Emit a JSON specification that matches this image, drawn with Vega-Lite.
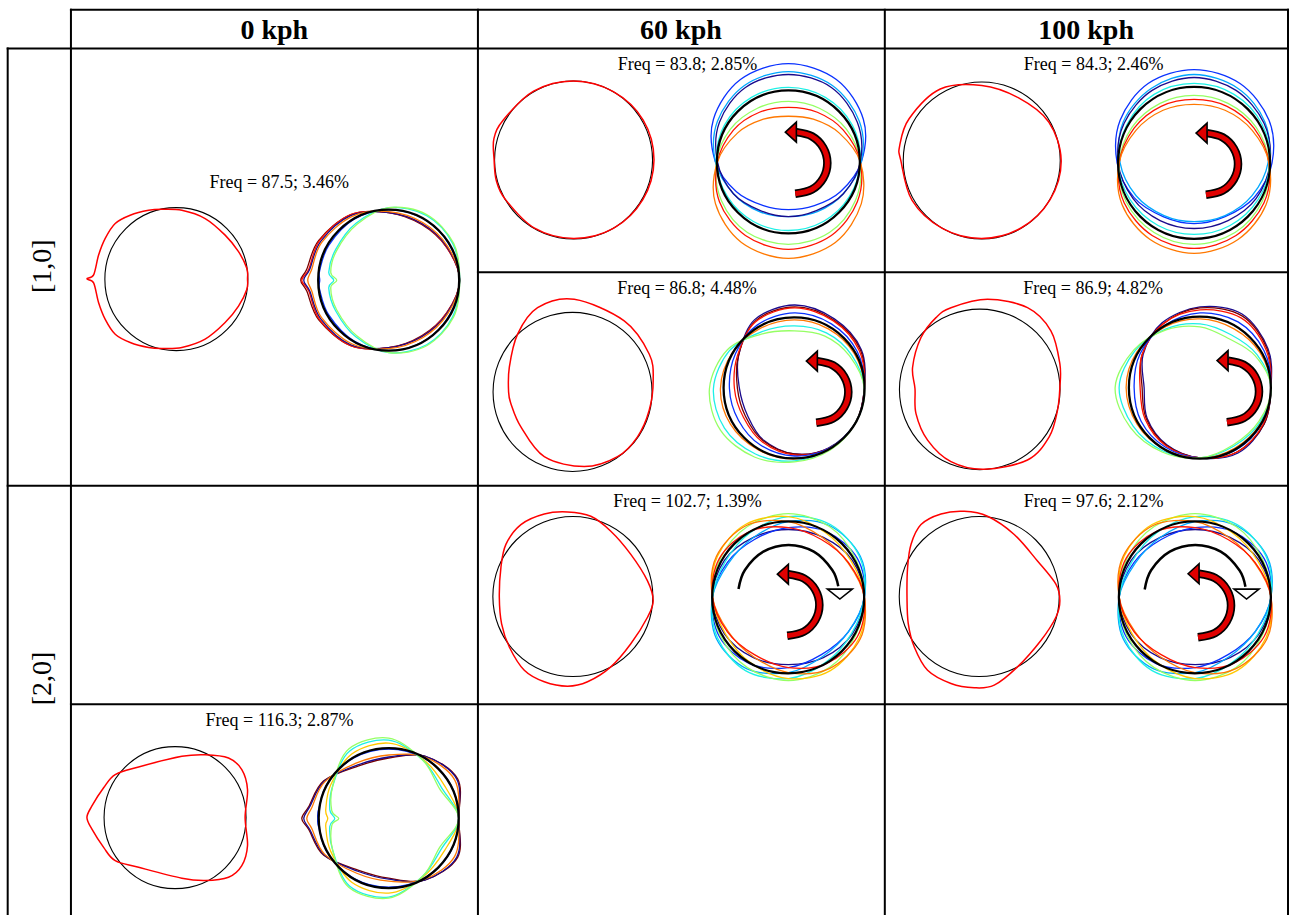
{
"$schema":"https://vega.github.io/schema/vega-lite/v6.json",
"width":1290,"height":916,
"autosize":{"type":"fit","contains":"padding"},
"padding":0,
"background":"white",
"config":{"view":{"stroke":null}},
"datasets":{
"grid":[
{"x":71,"x2":1289,"y":9.7,"y2":9.7},
{"x":7.7,"x2":1289,"y":48.7,"y2":48.7},
{"x":478.3,"x2":1289,"y":274,"y2":274},
{"x":7.7,"x2":1289,"y":489,"y2":489},
{"x":71,"x2":1289,"y":709,"y2":709},
{"x":7.7,"x2":7.7,"y":48.7,"y2":920},
{"x":71,"x2":71,"y":9.7,"y2":920},
{"x":478.3,"x2":478.3,"y":9.7,"y2":920},
{"x":885.5,"x2":885.5,"y":9.7,"y2":920},
{"x":1289,"x2":1289,"y":9.7,"y2":920}
],
"colhead":[{"t":"0 kph","x":274.5,"y":39},{"t":"60 kph","x":681.5,"y":39},{"t":"100 kph","x":1087,"y":39}],
"rowlab":[{"t":"[1,0]","x":43,"y":268},{"t":"[2,0]","x":43,"y":683}],
"freqs":[
{"t":"Freq = 87.5; 3.46%","x":279.5,"y":189.3},
{"t":"Freq = 83.8; 2.85%","x":688,"y":70.5},
{"t":"Freq = 84.3; 2.46%","x":1094.5,"y":70.5},
{"t":"Freq = 86.8; 4.48%","x":687.5,"y":295.7},
{"t":"Freq = 86.9; 4.82%","x":1094,"y":295.7},
{"t":"Freq = 102.7; 1.39%","x":688,"y":510.3},
{"t":"Freq = 97.6; 2.12%","x":1094.5,"y":510.3},
{"t":"Freq = 116.3; 2.87%","x":279.7,"y":730.3}
],
"refL":[
{"x":176.5,"y":281,"r":71.5},{"x":574,"y":161,"r":79},{"x":982.5,"y":161.5,"r":78.5},{"x":573,"y":394.5,"r":79.5},
{"x":980.5,"y":392,"r":80.3},{"x":573.3,"y":600.5,"r":80},{"x":980,"y":600.5,"r":80},{"x":175.2,"y":823,"r":71}
],
"refR":[
{"x":389,"y":282,"r":70.5},{"x":789,"y":163,"r":71.5},{"x":1195,"y":164,"r":76},{"x":794.7,"y":390.5,"r":70.5},
{"x":1200.8,"y":390.2,"r":71},{"x":788.8,"y":601.3,"r":76},{"x":1195.8,"y":601.3,"r":76},{"x":389,"y":823.5,"r":70}
],
"reds":[
{"p":"A","x":247.7,"y":280.7},{"p":"A","x":247,"y":270},{"p":"A","x":238.7,"y":253.3},{"p":"A","x":225.3,"y":236.7},{"p":"A","x":205.3,"y":220},{"p":"A","x":182,"y":211.7},{"p":"A","x":162,"y":210.7},{"p":"A","x":148.7,"y":211.7},{"p":"A","x":130.3,"y":216.7},{"p":"A","x":115.3,"y":225},{"p":"A","x":105.3,"y":240},{"p":"A","x":98.7,"y":256.7},{"p":"A","x":93.7,"y":276.7},{"p":"A","x":87,"y":280.7},{"p":"A","x":93.7,"y":284.7},{"p":"A","x":98.7,"y":304.7},{"p":"A","x":105.3,"y":321.4},{"p":"A","x":115.3,"y":336.4},{"p":"A","x":130.3,"y":344.7},{"p":"A","x":148.7,"y":349.7},{"p":"A","x":162,"y":350.7},{"p":"A","x":182,"y":349.7},{"p":"A","x":205.3,"y":341.4},{"p":"A","x":225.3,"y":324.7},{"p":"A","x":238.7,"y":308.1},{"p":"A","x":247,"y":291.4},
{"p":"B","x":654.5,"y":161},{"p":"B","x":643.7,"y":120.8},{"p":"B","x":613.8,"y":92.2},{"p":"B","x":574,"y":81.5},{"p":"B","x":534,"y":91.7},{"p":"B","x":503.9,"y":120.5},{"p":"B","x":494.3,"y":139.6},{"p":"B","x":494.5,"y":161},{"p":"B","x":496.7,"y":181.7},{"p":"B","x":505.6,"y":200.5},{"p":"B","x":534.5,"y":229.4},{"p":"B","x":574,"y":240},{"p":"B","x":613.8,"y":229.9},{"p":"B","x":643.3,"y":201},
{"p":"C","x":1062,"y":161.5},{"p":"C","x":1049.6,"y":122.8},{"p":"C","x":1019,"y":98.3},{"p":"C","x":982.5,"y":86},{"p":"C","x":941,"y":89.6},{"p":"C","x":909.8,"y":119.5},{"p":"C","x":900.3,"y":147},{"p":"C","x":901.5,"y":161.5},{"p":"C","x":912.8,"y":201.8},{"p":"C","x":943,"y":229.9},{"p":"C","x":982.5,"y":240},{"p":"C","x":1021.8,"y":229.5},{"p":"C","x":1050.9,"y":201},
{"p":"D","x":653.7,"y":383},{"p":"D","x":649.7,"y":356.3},{"p":"D","x":624.7,"y":323},{"p":"D","x":574.7,"y":301.3},{"p":"D","x":538,"y":309.7},{"p":"D","x":518,"y":336.3},{"p":"D","x":509.7,"y":369.7},{"p":"D","x":509,"y":394.7},{"p":"D","x":511.3,"y":406.3},{"p":"D","x":521.3,"y":429.7},{"p":"D","x":544.7,"y":459.7},{"p":"D","x":584.7,"y":469.7},{"p":"D","x":618,"y":459.7},{"p":"D","x":638,"y":439.7},{"p":"D","x":649.7,"y":413},
{"p":"E","x":1060.7,"y":389.7},{"p":"E","x":1060.7,"y":366.3},{"p":"E","x":1051.7,"y":333},{"p":"E","x":1028.3,"y":309.7},{"p":"E","x":988.3,"y":301.3},{"p":"E","x":951.7,"y":309.7},{"p":"E","x":936.7,"y":319.7},{"p":"E","x":921.7,"y":339.7},{"p":"E","x":913.3,"y":369.7},{"p":"E","x":915.7,"y":391.3},{"p":"E","x":916.7,"y":416.3},{"p":"E","x":928.3,"y":443},{"p":"E","x":951.7,"y":464.7},{"p":"E","x":985,"y":472.3},{"p":"E","x":1028.3,"y":463},{"p":"E","x":1050,"y":439.7},{"p":"E","x":1058.3,"y":413},
{"p":"F","x":653.7,"y":604.7},{"p":"F","x":648,"y":584.7},{"p":"F","x":631.3,"y":558},{"p":"F","x":611.3,"y":534.7},{"p":"F","x":591.3,"y":519.7},{"p":"F","x":568,"y":515.3},{"p":"F","x":544.7,"y":517.3},{"p":"F","x":521.3,"y":528},{"p":"F","x":506.3,"y":548},{"p":"F","x":501.3,"y":571.3},{"p":"F","x":499.7,"y":601.3},{"p":"F","x":502,"y":628},{"p":"F","x":509.7,"y":651.3},{"p":"F","x":524.7,"y":674.7},{"p":"F","x":544.7,"y":686.3},{"p":"F","x":568,"y":690.7},{"p":"F","x":588,"y":686.3},{"p":"F","x":611.3,"y":671.3},{"p":"F","x":631.3,"y":648},{"p":"F","x":648,"y":621.3},
{"p":"G","x":1060.7,"y":604.7},{"p":"G","x":1056.7,"y":588},{"p":"G","x":1038.3,"y":564.7},{"p":"G","x":1015,"y":538},{"p":"G","x":988.3,"y":519.7},{"p":"G","x":965,"y":514.7},{"p":"G","x":941.7,"y":517.3},{"p":"G","x":921.7,"y":528},{"p":"G","x":911.7,"y":548},{"p":"G","x":908.3,"y":571.3},{"p":"G","x":907.7,"y":601.3},{"p":"G","x":909,"y":628},{"p":"G","x":915,"y":651.3},{"p":"G","x":928.3,"y":674.7},{"p":"G","x":951.7,"y":688},{"p":"G","x":975,"y":692.3},{"p":"G","x":995,"y":689.7},{"p":"G","x":1018.3,"y":671.3},{"p":"G","x":1041.7,"y":644.7},{"p":"G","x":1056.7,"y":621.3},
{"p":"H","x":245.3,"y":823},{"p":"H","x":247.7,"y":794.7},{"p":"H","x":242,"y":774.7},{"p":"H","x":228.7,"y":763},{"p":"H","x":205.3,"y":759.7},{"p":"H","x":182,"y":761.3},{"p":"H","x":138.7,"y":772},{"p":"H","x":115.3,"y":779.7},{"p":"H","x":103.7,"y":793},{"p":"H","x":92,"y":811.3},{"p":"H","x":87,"y":823},{"p":"H","x":92,"y":834.7},{"p":"H","x":103.7,"y":853},{"p":"H","x":115.3,"y":866.3},{"p":"H","x":138.7,"y":873},{"p":"H","x":182,"y":884},{"p":"H","x":205.3,"y":886.3},{"p":"H","x":228.7,"y":883},{"p":"H","x":242,"y":871.3},{"p":"H","x":247.7,"y":851.3}
],
"frames":[
{"p":"A","k":9,"x":460,"y":282},{"p":"A","k":9,"x":447,"y":249},{"p":"A","k":9,"x":422,"y":226},{"p":"A","k":9,"x":389,"y":214},{"p":"A","k":9,"x":351,"y":216},{"p":"A","k":9,"x":319,"y":242},{"p":"A","k":9,"x":307,"y":271},{"p":"A","k":9,"x":301,"y":282},{"p":"A","k":9,"x":307,"y":293},{"p":"A","k":9,"x":319,"y":322},{"p":"A","k":9,"x":351,"y":348},{"p":"A","k":9,"x":389,"y":350},{"p":"A","k":9,"x":422,"y":338},{"p":"A","k":9,"x":447,"y":315},
{"p":"A","k":8,"x":460,"y":282},{"p":"A","k":8,"x":447,"y":249},{"p":"A","k":8,"x":422,"y":225},{"p":"A","k":8,"x":389,"y":214},{"p":"A","k":8,"x":351,"y":216},{"p":"A","k":8,"x":320,"y":242},{"p":"A","k":8,"x":309,"y":271},{"p":"A","k":8,"x":302,"y":282},{"p":"A","k":8,"x":309,"y":293},{"p":"A","k":8,"x":320,"y":322},{"p":"A","k":8,"x":351,"y":348},{"p":"A","k":8,"x":389,"y":350},{"p":"A","k":8,"x":422,"y":339},{"p":"A","k":8,"x":447,"y":315},
{"p":"A","k":1,"x":460,"y":282},{"p":"A","k":1,"x":447,"y":248},{"p":"A","k":1,"x":422,"y":225},{"p":"A","k":1,"x":389,"y":214},{"p":"A","k":1,"x":351,"y":217},{"p":"A","k":1,"x":321,"y":243},{"p":"A","k":1,"x":310,"y":271},{"p":"A","k":1,"x":304,"y":282},{"p":"A","k":1,"x":310,"y":293},{"p":"A","k":1,"x":321,"y":321},{"p":"A","k":1,"x":351,"y":347},{"p":"A","k":1,"x":389,"y":350},{"p":"A","k":1,"x":422,"y":339},{"p":"A","k":1,"x":447,"y":316},
{"p":"A","k":7,"x":460,"y":282},{"p":"A","k":7,"x":448,"y":248},{"p":"A","k":7,"x":423,"y":224},{"p":"A","k":7,"x":389,"y":213},{"p":"A","k":7,"x":352,"y":218},{"p":"A","k":7,"x":322,"y":244},{"p":"A","k":7,"x":312,"y":271},{"p":"A","k":7,"x":308,"y":282},{"p":"A","k":7,"x":312,"y":293},{"p":"A","k":7,"x":322,"y":320},{"p":"A","k":7,"x":352,"y":346},{"p":"A","k":7,"x":389,"y":351},{"p":"A","k":7,"x":423,"y":340},{"p":"A","k":7,"x":448,"y":316},
{"p":"A","k":2,"x":460,"y":282},{"p":"A","k":2,"x":450,"y":247},{"p":"A","k":2,"x":425,"y":221},{"p":"A","k":2,"x":389,"y":211},{"p":"A","k":2,"x":354,"y":221},{"p":"A","k":2,"x":329,"y":247},{"p":"A","k":2,"x":320,"y":272},{"p":"A","k":2,"x":320,"y":282},{"p":"A","k":2,"x":320,"y":292},{"p":"A","k":2,"x":329,"y":317},{"p":"A","k":2,"x":354,"y":343},{"p":"A","k":2,"x":389,"y":353},{"p":"A","k":2,"x":425,"y":343},{"p":"A","k":2,"x":450,"y":317},
{"p":"A","k":4,"x":460,"y":282},{"p":"A","k":4,"x":453,"y":245},{"p":"A","k":4,"x":427,"y":217},{"p":"A","k":4,"x":389,"y":209},{"p":"A","k":4,"x":356,"y":225},{"p":"A","k":4,"x":336,"y":251},{"p":"A","k":4,"x":329,"y":274},{"p":"A","k":4,"x":334,"y":282},{"p":"A","k":4,"x":329,"y":290},{"p":"A","k":4,"x":336,"y":313},{"p":"A","k":4,"x":356,"y":339},{"p":"A","k":4,"x":389,"y":355},{"p":"A","k":4,"x":427,"y":347},{"p":"A","k":4,"x":453,"y":319},
{"p":"A","k":5,"x":460,"y":282},{"p":"A","k":5,"x":454,"y":245},{"p":"A","k":5,"x":427,"y":216},{"p":"A","k":5,"x":389,"y":209},{"p":"A","k":5,"x":357,"y":226},{"p":"A","k":5,"x":337,"y":252},{"p":"A","k":5,"x":331,"y":274},{"p":"A","k":5,"x":337,"y":282},{"p":"A","k":5,"x":331,"y":290},{"p":"A","k":5,"x":337,"y":312},{"p":"A","k":5,"x":357,"y":338},{"p":"A","k":5,"x":389,"y":355},{"p":"A","k":5,"x":427,"y":348},{"p":"A","k":5,"x":454,"y":319},
{"p":"H","k":9,"x":459,"y":824},{"p":"H","k":9,"x":458,"y":784},{"p":"H","k":9,"x":425,"y":761},{"p":"H","k":9,"x":389,"y":763},{"p":"H","k":9,"x":359,"y":771},{"p":"H","k":9,"x":324,"y":786},{"p":"H","k":9,"x":309,"y":812},{"p":"H","k":9,"x":302,"y":824},{"p":"H","k":9,"x":309,"y":835},{"p":"H","k":9,"x":324,"y":861},{"p":"H","k":9,"x":359,"y":876},{"p":"H","k":9,"x":389,"y":884},{"p":"H","k":9,"x":425,"y":886},{"p":"H","k":9,"x":458,"y":863},
{"p":"H","k":1,"x":459,"y":824},{"p":"H","k":1,"x":457,"y":784},{"p":"H","k":1,"x":425,"y":761},{"p":"H","k":1,"x":389,"y":762},{"p":"H","k":1,"x":358,"y":770},{"p":"H","k":1,"x":325,"y":786},{"p":"H","k":1,"x":310,"y":812},{"p":"H","k":1,"x":304,"y":824},{"p":"H","k":1,"x":310,"y":835},{"p":"H","k":1,"x":325,"y":861},{"p":"H","k":1,"x":358,"y":877},{"p":"H","k":1,"x":389,"y":885},{"p":"H","k":1,"x":425,"y":886},{"p":"H","k":1,"x":457,"y":863},
{"p":"H","k":7,"x":459,"y":824},{"p":"H","k":7,"x":455,"y":785},{"p":"H","k":7,"x":425,"y":762},{"p":"H","k":7,"x":389,"y":760},{"p":"H","k":7,"x":357,"y":768},{"p":"H","k":7,"x":325,"y":787},{"p":"H","k":7,"x":312,"y":813},{"p":"H","k":7,"x":307,"y":824},{"p":"H","k":7,"x":312,"y":834},{"p":"H","k":7,"x":325,"y":860},{"p":"H","k":7,"x":357,"y":879},{"p":"H","k":7,"x":389,"y":887},{"p":"H","k":7,"x":425,"y":885},{"p":"H","k":7,"x":455,"y":862},
{"p":"H","k":2,"x":459,"y":824},{"p":"H","k":2,"x":450,"y":788},{"p":"H","k":2,"x":424,"y":763},{"p":"H","k":2,"x":389,"y":754},{"p":"H","k":2,"x":354,"y":763},{"p":"H","k":2,"x":328,"y":788},{"p":"H","k":2,"x":319,"y":814},{"p":"H","k":2,"x":318,"y":824},{"p":"H","k":2,"x":319,"y":833},{"p":"H","k":2,"x":328,"y":859},{"p":"H","k":2,"x":354,"y":884},{"p":"H","k":2,"x":389,"y":893},{"p":"H","k":2,"x":424,"y":884},{"p":"H","k":2,"x":450,"y":859},
{"p":"H","k":6,"x":459,"y":824},{"p":"H","k":6,"x":445,"y":791},{"p":"H","k":6,"x":423,"y":764},{"p":"H","k":6,"x":389,"y":748},{"p":"H","k":6,"x":352,"y":759},{"p":"H","k":6,"x":331,"y":790},{"p":"H","k":6,"x":326,"y":815},{"p":"H","k":6,"x":328,"y":824},{"p":"H","k":6,"x":326,"y":832},{"p":"H","k":6,"x":331,"y":857},{"p":"H","k":6,"x":352,"y":888},{"p":"H","k":6,"x":389,"y":899},{"p":"H","k":6,"x":423,"y":883},{"p":"H","k":6,"x":445,"y":856},
{"p":"H","k":4,"x":459,"y":824},{"p":"H","k":4,"x":442,"y":793},{"p":"H","k":4,"x":423,"y":765},{"p":"H","k":4,"x":389,"y":745},{"p":"H","k":4,"x":350,"y":756},{"p":"H","k":4,"x":333,"y":791},{"p":"H","k":4,"x":330,"y":815},{"p":"H","k":4,"x":335,"y":824},{"p":"H","k":4,"x":330,"y":832},{"p":"H","k":4,"x":333,"y":856},{"p":"H","k":4,"x":350,"y":892},{"p":"H","k":4,"x":389,"y":903},{"p":"H","k":4,"x":423,"y":882},{"p":"H","k":4,"x":442,"y":854},
{"p":"H","k":5,"x":459,"y":824},{"p":"H","k":5,"x":440,"y":794},{"p":"H","k":5,"x":423,"y":765},{"p":"H","k":5,"x":389,"y":743},{"p":"H","k":5,"x":349,"y":754},{"p":"H","k":5,"x":333,"y":791},{"p":"H","k":5,"x":332,"y":816},{"p":"H","k":5,"x":339,"y":824},{"p":"H","k":5,"x":332,"y":831},{"p":"H","k":5,"x":333,"y":856},{"p":"H","k":5,"x":349,"y":893},{"p":"H","k":5,"x":389,"y":904},{"p":"H","k":5,"x":423,"y":882},{"p":"H","k":5,"x":440,"y":853},
{"p":"B","k":2,"x":862,"y":163},{"p":"B","k":2,"x":864,"y":120},{"p":"B","k":2,"x":837,"y":80},{"p":"B","k":2,"x":789,"y":64},{"p":"B","k":2,"x":741,"y":80},{"p":"B","k":2,"x":714,"y":120},{"p":"B","k":2,"x":716,"y":163},{"p":"B","k":2,"x":737,"y":193},{"p":"B","k":2,"x":764,"y":207},{"p":"B","k":2,"x":789,"y":211},{"p":"B","k":2,"x":815,"y":207},{"p":"B","k":2,"x":841,"y":193},
{"p":"B","k":3,"x":862,"y":163},{"p":"B","k":3,"x":860,"y":122},{"p":"B","k":3,"x":833,"y":86},{"p":"B","k":3,"x":789,"y":72},{"p":"B","k":3,"x":745,"y":86},{"p":"B","k":3,"x":718,"y":122},{"p":"B","k":3,"x":716,"y":163},{"p":"B","k":3,"x":734,"y":195},{"p":"B","k":3,"x":760,"y":213},{"p":"B","k":3,"x":789,"y":218},{"p":"B","k":3,"x":818,"y":213},{"p":"B","k":3,"x":844,"y":195},
{"p":"B","k":1,"x":861,"y":163},{"p":"B","k":1,"x":858,"y":123},{"p":"B","k":1,"x":832,"y":88},{"p":"B","k":1,"x":789,"y":75},{"p":"B","k":1,"x":746,"y":88},{"p":"B","k":1,"x":720,"y":123},{"p":"B","k":1,"x":718,"y":163},{"p":"B","k":1,"x":734,"y":195},{"p":"B","k":1,"x":761,"y":212},{"p":"B","k":1,"x":789,"y":218},{"p":"B","k":1,"x":817,"y":212},{"p":"B","k":1,"x":844,"y":195},
{"p":"B","k":4,"x":861,"y":163},{"p":"B","k":4,"x":853,"y":126},{"p":"B","k":4,"x":826,"y":98},{"p":"B","k":4,"x":789,"y":88},{"p":"B","k":4,"x":752,"y":98},{"p":"B","k":4,"x":725,"y":126},{"p":"B","k":4,"x":717,"y":163},{"p":"B","k":4,"x":728,"y":198},{"p":"B","k":4,"x":754,"y":223},{"p":"B","k":4,"x":789,"y":232},{"p":"B","k":4,"x":824,"y":223},{"p":"B","k":4,"x":850,"y":198},
{"p":"B","k":5,"x":861,"y":163},{"p":"B","k":5,"x":847,"y":130},{"p":"B","k":5,"x":820,"y":109},{"p":"B","k":5,"x":789,"y":102},{"p":"B","k":5,"x":758,"y":109},{"p":"B","k":5,"x":731,"y":130},{"p":"B","k":5,"x":717,"y":163},{"p":"B","k":5,"x":722,"y":202},{"p":"B","k":5,"x":748,"y":234},{"p":"B","k":5,"x":789,"y":246},{"p":"B","k":5,"x":830,"y":234},{"p":"B","k":5,"x":856,"y":202},
{"p":"B","k":8,"x":861,"y":163},{"p":"B","k":8,"x":844,"y":131},{"p":"B","k":8,"x":818,"y":113},{"p":"B","k":8,"x":789,"y":108},{"p":"B","k":8,"x":760,"y":113},{"p":"B","k":8,"x":734,"y":131},{"p":"B","k":8,"x":718,"y":163},{"p":"B","k":8,"x":720,"y":203},{"p":"B","k":8,"x":746,"y":237},{"p":"B","k":8,"x":789,"y":251},{"p":"B","k":8,"x":832,"y":237},{"p":"B","k":8,"x":858,"y":203},
{"p":"B","k":7,"x":861,"y":163},{"p":"B","k":7,"x":840,"y":134},{"p":"B","k":7,"x":814,"y":120},{"p":"B","k":7,"x":789,"y":117},{"p":"B","k":7,"x":764,"y":120},{"p":"B","k":7,"x":738,"y":134},{"p":"B","k":7,"x":718,"y":163},{"p":"B","k":7,"x":716,"y":205},{"p":"B","k":7,"x":742,"y":244},{"p":"B","k":7,"x":789,"y":260},{"p":"B","k":7,"x":836,"y":244},{"p":"B","k":7,"x":862,"y":205},
{"p":"C","k":2,"x":1273,"y":164},{"p":"C","k":2,"x":1270,"y":121},{"p":"C","k":2,"x":1241,"y":84},{"p":"C","k":2,"x":1195,"y":70},{"p":"C","k":2,"x":1149,"y":84},{"p":"C","k":2,"x":1121,"y":121},{"p":"C","k":2,"x":1118,"y":164},{"p":"C","k":2,"x":1135,"y":199},{"p":"C","k":2,"x":1164,"y":218},{"p":"C","k":2,"x":1195,"y":225},{"p":"C","k":2,"x":1226,"y":218},{"p":"C","k":2,"x":1255,"y":199},
{"p":"C","k":3,"x":1269,"y":164},{"p":"C","k":3,"x":1266,"y":123},{"p":"C","k":3,"x":1239,"y":89},{"p":"C","k":3,"x":1195,"y":75},{"p":"C","k":3,"x":1152,"y":89},{"p":"C","k":3,"x":1124,"y":123},{"p":"C","k":3,"x":1121,"y":164},{"p":"C","k":3,"x":1137,"y":197},{"p":"C","k":3,"x":1165,"y":217},{"p":"C","k":3,"x":1195,"y":223},{"p":"C","k":3,"x":1226,"y":217},{"p":"C","k":3,"x":1253,"y":197},
{"p":"C","k":1,"x":1271,"y":164},{"p":"C","k":1,"x":1265,"y":124},{"p":"C","k":1,"x":1237,"y":91},{"p":"C","k":1,"x":1195,"y":78},{"p":"C","k":1,"x":1153,"y":91},{"p":"C","k":1,"x":1125,"y":124},{"p":"C","k":1,"x":1119,"y":164},{"p":"C","k":1,"x":1134,"y":200},{"p":"C","k":1,"x":1161,"y":222},{"p":"C","k":1,"x":1195,"y":230},{"p":"C","k":1,"x":1229,"y":222},{"p":"C","k":1,"x":1257,"y":200},
{"p":"C","k":4,"x":1271,"y":164},{"p":"C","k":4,"x":1263,"y":125},{"p":"C","k":4,"x":1235,"y":95},{"p":"C","k":4,"x":1195,"y":84},{"p":"C","k":4,"x":1155,"y":95},{"p":"C","k":4,"x":1128,"y":125},{"p":"C","k":4,"x":1119,"y":164},{"p":"C","k":4,"x":1131,"y":201},{"p":"C","k":4,"x":1159,"y":227},{"p":"C","k":4,"x":1195,"y":236},{"p":"C","k":4,"x":1231,"y":227},{"p":"C","k":4,"x":1259,"y":201},
{"p":"C","k":5,"x":1270,"y":164},{"p":"C","k":5,"x":1257,"y":128},{"p":"C","k":5,"x":1229,"y":104},{"p":"C","k":5,"x":1195,"y":96},{"p":"C","k":5,"x":1161,"y":104},{"p":"C","k":5,"x":1133,"y":128},{"p":"C","k":5,"x":1120,"y":164},{"p":"C","k":5,"x":1127,"y":203},{"p":"C","k":5,"x":1155,"y":234},{"p":"C","k":5,"x":1195,"y":246},{"p":"C","k":5,"x":1236,"y":234},{"p":"C","k":5,"x":1263,"y":203},
{"p":"C","k":8,"x":1270,"y":164},{"p":"C","k":8,"x":1255,"y":129},{"p":"C","k":8,"x":1228,"y":107},{"p":"C","k":8,"x":1195,"y":100},{"p":"C","k":8,"x":1162,"y":107},{"p":"C","k":8,"x":1135,"y":129},{"p":"C","k":8,"x":1120,"y":164},{"p":"C","k":8,"x":1125,"y":204},{"p":"C","k":8,"x":1153,"y":237},{"p":"C","k":8,"x":1195,"y":250},{"p":"C","k":8,"x":1237,"y":237},{"p":"C","k":8,"x":1265,"y":204},
{"p":"C","k":7,"x":1270,"y":164},{"p":"C","k":7,"x":1253,"y":131},{"p":"C","k":7,"x":1226,"y":111},{"p":"C","k":7,"x":1195,"y":105},{"p":"C","k":7,"x":1164,"y":111},{"p":"C","k":7,"x":1137,"y":131},{"p":"C","k":7,"x":1120,"y":164},{"p":"C","k":7,"x":1123,"y":206},{"p":"C","k":7,"x":1151,"y":241},{"p":"C","k":7,"x":1195,"y":255},{"p":"C","k":7,"x":1239,"y":241},{"p":"C","k":7,"x":1267,"y":206},
{"p":"D","k":1,"x":865,"y":391},{"p":"D","k":1,"x":862,"y":352},{"p":"D","k":1,"x":835,"y":321},{"p":"D","k":1,"x":795,"y":307},{"p":"D","k":1,"x":755,"y":322},{"p":"D","k":1,"x":739,"y":359},{"p":"D","k":1,"x":740,"y":391},{"p":"D","k":1,"x":748,"y":418},{"p":"D","k":1,"x":764,"y":443},{"p":"D","k":1,"x":795,"y":457},{"p":"D","k":1,"x":829,"y":451},{"p":"D","k":1,"x":856,"y":426},
{"p":"D","k":9,"x":865,"y":391},{"p":"D","k":9,"x":861,"y":352},{"p":"D","k":9,"x":834,"y":322},{"p":"D","k":9,"x":795,"y":309},{"p":"D","k":9,"x":756,"y":323},{"p":"D","k":9,"x":739,"y":358},{"p":"D","k":9,"x":738,"y":391},{"p":"D","k":9,"x":746,"y":419},{"p":"D","k":9,"x":764,"y":444},{"p":"D","k":9,"x":795,"y":457},{"p":"D","k":9,"x":830,"y":451},{"p":"D","k":9,"x":856,"y":426},
{"p":"D","k":8,"x":865,"y":391},{"p":"D","k":8,"x":860,"y":353},{"p":"D","k":8,"x":834,"y":323},{"p":"D","k":8,"x":795,"y":310},{"p":"D","k":8,"x":756,"y":324},{"p":"D","k":8,"x":738,"y":358},{"p":"D","k":8,"x":735,"y":391},{"p":"D","k":8,"x":744,"y":420},{"p":"D","k":8,"x":763,"y":445},{"p":"D","k":8,"x":795,"y":458},{"p":"D","k":8,"x":830,"y":451},{"p":"D","k":8,"x":856,"y":426},
{"p":"D","k":2,"x":865,"y":391},{"p":"D","k":2,"x":858,"y":354},{"p":"D","k":2,"x":832,"y":326},{"p":"D","k":2,"x":795,"y":315},{"p":"D","k":2,"x":758,"y":327},{"p":"D","k":2,"x":736,"y":356},{"p":"D","k":2,"x":730,"y":391},{"p":"D","k":2,"x":739,"y":423},{"p":"D","k":2,"x":761,"y":448},{"p":"D","k":2,"x":795,"y":459},{"p":"D","k":2,"x":830,"y":451},{"p":"D","k":2,"x":856,"y":426},
{"p":"D","k":7,"x":865,"y":391},{"p":"D","k":7,"x":855,"y":356},{"p":"D","k":7,"x":829,"y":331},{"p":"D","k":7,"x":795,"y":322},{"p":"D","k":7,"x":760,"y":331},{"p":"D","k":7,"x":733,"y":355},{"p":"D","k":7,"x":721,"y":391},{"p":"D","k":7,"x":731,"y":427},{"p":"D","k":7,"x":759,"y":453},{"p":"D","k":7,"x":795,"y":462},{"p":"D","k":7,"x":830,"y":452},{"p":"D","k":7,"x":856,"y":426},
{"p":"D","k":4,"x":865,"y":391},{"p":"D","k":4,"x":852,"y":357},{"p":"D","k":4,"x":827,"y":335},{"p":"D","k":4,"x":795,"y":328},{"p":"D","k":4,"x":762,"y":334},{"p":"D","k":4,"x":730,"y":353},{"p":"D","k":4,"x":714,"y":391},{"p":"D","k":4,"x":725,"y":431},{"p":"D","k":4,"x":756,"y":457},{"p":"D","k":4,"x":795,"y":464},{"p":"D","k":4,"x":830,"y":452},{"p":"D","k":4,"x":856,"y":426},
{"p":"D","k":5,"x":865,"y":391},{"p":"D","k":5,"x":850,"y":358},{"p":"D","k":5,"x":825,"y":338},{"p":"D","k":5,"x":795,"y":333},{"p":"D","k":5,"x":763,"y":336},{"p":"D","k":5,"x":728,"y":352},{"p":"D","k":5,"x":710,"y":391},{"p":"D","k":5,"x":721,"y":433},{"p":"D","k":5,"x":755,"y":460},{"p":"D","k":5,"x":795,"y":465},{"p":"D","k":5,"x":831,"y":453},{"p":"D","k":5,"x":856,"y":426},
{"p":"E","k":1,"x":1272,"y":390},{"p":"E","k":1,"x":1269,"y":351},{"p":"E","k":1,"x":1243,"y":316},{"p":"E","k":1,"x":1201,"y":309},{"p":"E","k":1,"x":1163,"y":325},{"p":"E","k":1,"x":1144,"y":357},{"p":"E","k":1,"x":1145,"y":390},{"p":"E","k":1,"x":1148,"y":421},{"p":"E","k":1,"x":1168,"y":448},{"p":"E","k":1,"x":1201,"y":461},{"p":"E","k":1,"x":1239,"y":456},{"p":"E","k":1,"x":1265,"y":427},
{"p":"E","k":9,"x":1272,"y":390},{"p":"E","k":9,"x":1268,"y":351},{"p":"E","k":9,"x":1243,"y":318},{"p":"E","k":9,"x":1201,"y":310},{"p":"E","k":9,"x":1164,"y":326},{"p":"E","k":9,"x":1143,"y":357},{"p":"E","k":9,"x":1143,"y":390},{"p":"E","k":9,"x":1147,"y":421},{"p":"E","k":9,"x":1167,"y":448},{"p":"E","k":9,"x":1201,"y":461},{"p":"E","k":9,"x":1238,"y":455},{"p":"E","k":9,"x":1265,"y":427},
{"p":"E","k":8,"x":1272,"y":390},{"p":"E","k":8,"x":1267,"y":352},{"p":"E","k":8,"x":1242,"y":320},{"p":"E","k":8,"x":1201,"y":312},{"p":"E","k":8,"x":1164,"y":326},{"p":"E","k":8,"x":1143,"y":357},{"p":"E","k":8,"x":1141,"y":390},{"p":"E","k":8,"x":1146,"y":422},{"p":"E","k":8,"x":1167,"y":449},{"p":"E","k":8,"x":1201,"y":461},{"p":"E","k":8,"x":1238,"y":455},{"p":"E","k":8,"x":1264,"y":427},
{"p":"E","k":2,"x":1272,"y":390},{"p":"E","k":2,"x":1265,"y":353},{"p":"E","k":2,"x":1239,"y":324},{"p":"E","k":2,"x":1201,"y":315},{"p":"E","k":2,"x":1165,"y":328},{"p":"E","k":2,"x":1141,"y":356},{"p":"E","k":2,"x":1135,"y":390},{"p":"E","k":2,"x":1142,"y":424},{"p":"E","k":2,"x":1166,"y":450},{"p":"E","k":2,"x":1201,"y":461},{"p":"E","k":2,"x":1237,"y":453},{"p":"E","k":2,"x":1263,"y":426},
{"p":"E","k":7,"x":1272,"y":390},{"p":"E","k":7,"x":1261,"y":355},{"p":"E","k":7,"x":1235,"y":331},{"p":"E","k":7,"x":1201,"y":321},{"p":"E","k":7,"x":1166,"y":329},{"p":"E","k":7,"x":1138,"y":354},{"p":"E","k":7,"x":1127,"y":390},{"p":"E","k":7,"x":1138,"y":427},{"p":"E","k":7,"x":1165,"y":452},{"p":"E","k":7,"x":1201,"y":461},{"p":"E","k":7,"x":1236,"y":451},{"p":"E","k":7,"x":1262,"y":425},
{"p":"E","k":4,"x":1272,"y":390},{"p":"E","k":4,"x":1258,"y":357},{"p":"E","k":4,"x":1232,"y":337},{"p":"E","k":4,"x":1201,"y":326},{"p":"E","k":4,"x":1167,"y":331},{"p":"E","k":4,"x":1136,"y":353},{"p":"E","k":4,"x":1120,"y":390},{"p":"E","k":4,"x":1134,"y":429},{"p":"E","k":4,"x":1164,"y":454},{"p":"E","k":4,"x":1201,"y":461},{"p":"E","k":4,"x":1235,"y":449},{"p":"E","k":4,"x":1261,"y":425},
{"p":"E","k":5,"x":1272,"y":390},{"p":"E","k":5,"x":1256,"y":358},{"p":"E","k":5,"x":1230,"y":341},{"p":"E","k":5,"x":1201,"y":329},{"p":"E","k":5,"x":1167,"y":332},{"p":"E","k":5,"x":1135,"y":352},{"p":"E","k":5,"x":1116,"y":390},{"p":"E","k":5,"x":1131,"y":430},{"p":"E","k":5,"x":1163,"y":455},{"p":"E","k":5,"x":1201,"y":461},{"p":"E","k":5,"x":1234,"y":448},{"p":"E","k":5,"x":1260,"y":424},
{"p":"F","k":1,"x":865,"y":601},{"p":"F","k":1,"x":853,"y":564},{"p":"F","k":1,"x":824,"y":541},{"p":"F","k":1,"x":789,"y":533},{"p":"F","k":1,"x":754,"y":541},{"p":"F","k":1,"x":725,"y":564},{"p":"F","k":1,"x":713,"y":601},{"p":"F","k":1,"x":725,"y":638},{"p":"F","k":1,"x":754,"y":662},{"p":"F","k":1,"x":789,"y":669},{"p":"F","k":1,"x":824,"y":662},{"p":"F","k":1,"x":853,"y":638},
{"p":"F","k":2,"x":865,"y":601},{"p":"F","k":2,"x":858,"y":562},{"p":"F","k":2,"x":827,"y":535},{"p":"F","k":2,"x":789,"y":531},{"p":"F","k":2,"x":755,"y":543},{"p":"F","k":2,"x":728,"y":566},{"p":"F","k":2,"x":713,"y":601},{"p":"F","k":2,"x":720,"y":641},{"p":"F","k":2,"x":750,"y":668},{"p":"F","k":2,"x":789,"y":672},{"p":"F","k":2,"x":822,"y":659},{"p":"F","k":2,"x":849,"y":636},
{"p":"F","k":3,"x":865,"y":601},{"p":"F","k":3,"x":861,"y":560},{"p":"F","k":3,"x":830,"y":529},{"p":"F","k":3,"x":789,"y":525},{"p":"F","k":3,"x":754,"y":541},{"p":"F","k":3,"x":729,"y":567},{"p":"F","k":3,"x":713,"y":601},{"p":"F","k":3,"x":717,"y":643},{"p":"F","k":3,"x":747,"y":673},{"p":"F","k":3,"x":789,"y":677},{"p":"F","k":3,"x":823,"y":661},{"p":"F","k":3,"x":849,"y":636},
{"p":"F","k":4,"x":865,"y":601},{"p":"F","k":4,"x":860,"y":560},{"p":"F","k":4,"x":831,"y":528},{"p":"F","k":4,"x":789,"y":520},{"p":"F","k":4,"x":751,"y":536},{"p":"F","k":4,"x":726,"y":565},{"p":"F","k":4,"x":713,"y":601},{"p":"F","k":4,"x":718,"y":642},{"p":"F","k":4,"x":746,"y":675},{"p":"F","k":4,"x":789,"y":683},{"p":"F","k":4,"x":826,"y":667},{"p":"F","k":4,"x":852,"y":638},
{"p":"F","k":5,"x":865,"y":601},{"p":"F","k":5,"x":856,"y":562},{"p":"F","k":5,"x":830,"y":530},{"p":"F","k":5,"x":789,"y":517},{"p":"F","k":5,"x":748,"y":530},{"p":"F","k":5,"x":721,"y":562},{"p":"F","k":5,"x":713,"y":601},{"p":"F","k":5,"x":721,"y":640},{"p":"F","k":5,"x":748,"y":672},{"p":"F","k":5,"x":789,"y":685},{"p":"F","k":5,"x":830,"y":672},{"p":"F","k":5,"x":856,"y":640},
{"p":"F","k":6,"x":865,"y":601},{"p":"F","k":6,"x":852,"y":565},{"p":"F","k":6,"x":826,"y":536},{"p":"F","k":6,"x":789,"y":520},{"p":"F","k":6,"x":746,"y":528},{"p":"F","k":6,"x":718,"y":560},{"p":"F","k":6,"x":713,"y":601},{"p":"F","k":6,"x":726,"y":638},{"p":"F","k":6,"x":751,"y":667},{"p":"F","k":6,"x":789,"y":683},{"p":"F","k":6,"x":831,"y":675},{"p":"F","k":6,"x":860,"y":642},
{"p":"F","k":7,"x":865,"y":601},{"p":"F","k":7,"x":849,"y":567},{"p":"F","k":7,"x":823,"y":541},{"p":"F","k":7,"x":789,"y":525},{"p":"F","k":7,"x":747,"y":529},{"p":"F","k":7,"x":717,"y":560},{"p":"F","k":7,"x":713,"y":601},{"p":"F","k":7,"x":729,"y":636},{"p":"F","k":7,"x":754,"y":661},{"p":"F","k":7,"x":789,"y":677},{"p":"F","k":7,"x":830,"y":673},{"p":"F","k":7,"x":861,"y":643},
{"p":"F","k":8,"x":865,"y":601},{"p":"F","k":8,"x":849,"y":566},{"p":"F","k":8,"x":822,"y":543},{"p":"F","k":8,"x":789,"y":531},{"p":"F","k":8,"x":750,"y":535},{"p":"F","k":8,"x":720,"y":562},{"p":"F","k":8,"x":713,"y":601},{"p":"F","k":8,"x":728,"y":636},{"p":"F","k":8,"x":755,"y":659},{"p":"F","k":8,"x":789,"y":672},{"p":"F","k":8,"x":827,"y":668},{"p":"F","k":8,"x":858,"y":641},
{"p":"G","k":1,"x":1272,"y":601},{"p":"G","k":1,"x":1260,"y":564},{"p":"G","k":1,"x":1231,"y":541},{"p":"G","k":1,"x":1196,"y":533},{"p":"G","k":1,"x":1161,"y":541},{"p":"G","k":1,"x":1132,"y":564},{"p":"G","k":1,"x":1120,"y":601},{"p":"G","k":1,"x":1132,"y":638},{"p":"G","k":1,"x":1161,"y":662},{"p":"G","k":1,"x":1196,"y":669},{"p":"G","k":1,"x":1231,"y":662},{"p":"G","k":1,"x":1260,"y":638},
{"p":"G","k":2,"x":1272,"y":601},{"p":"G","k":2,"x":1265,"y":562},{"p":"G","k":2,"x":1234,"y":535},{"p":"G","k":2,"x":1196,"y":531},{"p":"G","k":2,"x":1162,"y":543},{"p":"G","k":2,"x":1135,"y":566},{"p":"G","k":2,"x":1120,"y":601},{"p":"G","k":2,"x":1127,"y":641},{"p":"G","k":2,"x":1157,"y":668},{"p":"G","k":2,"x":1196,"y":672},{"p":"G","k":2,"x":1229,"y":659},{"p":"G","k":2,"x":1256,"y":636},
{"p":"G","k":3,"x":1272,"y":601},{"p":"G","k":3,"x":1268,"y":560},{"p":"G","k":3,"x":1237,"y":529},{"p":"G","k":3,"x":1196,"y":525},{"p":"G","k":3,"x":1161,"y":541},{"p":"G","k":3,"x":1136,"y":567},{"p":"G","k":3,"x":1120,"y":601},{"p":"G","k":3,"x":1124,"y":643},{"p":"G","k":3,"x":1154,"y":673},{"p":"G","k":3,"x":1196,"y":677},{"p":"G","k":3,"x":1230,"y":661},{"p":"G","k":3,"x":1256,"y":636},
{"p":"G","k":4,"x":1272,"y":601},{"p":"G","k":4,"x":1267,"y":560},{"p":"G","k":4,"x":1238,"y":528},{"p":"G","k":4,"x":1196,"y":520},{"p":"G","k":4,"x":1158,"y":536},{"p":"G","k":4,"x":1133,"y":565},{"p":"G","k":4,"x":1120,"y":601},{"p":"G","k":4,"x":1125,"y":642},{"p":"G","k":4,"x":1153,"y":675},{"p":"G","k":4,"x":1196,"y":683},{"p":"G","k":4,"x":1233,"y":667},{"p":"G","k":4,"x":1259,"y":638},
{"p":"G","k":5,"x":1272,"y":601},{"p":"G","k":5,"x":1263,"y":562},{"p":"G","k":5,"x":1237,"y":530},{"p":"G","k":5,"x":1196,"y":517},{"p":"G","k":5,"x":1155,"y":530},{"p":"G","k":5,"x":1128,"y":562},{"p":"G","k":5,"x":1120,"y":601},{"p":"G","k":5,"x":1128,"y":640},{"p":"G","k":5,"x":1155,"y":672},{"p":"G","k":5,"x":1196,"y":685},{"p":"G","k":5,"x":1237,"y":672},{"p":"G","k":5,"x":1263,"y":640},
{"p":"G","k":6,"x":1272,"y":601},{"p":"G","k":6,"x":1259,"y":565},{"p":"G","k":6,"x":1233,"y":536},{"p":"G","k":6,"x":1196,"y":520},{"p":"G","k":6,"x":1153,"y":528},{"p":"G","k":6,"x":1125,"y":560},{"p":"G","k":6,"x":1120,"y":601},{"p":"G","k":6,"x":1133,"y":638},{"p":"G","k":6,"x":1158,"y":667},{"p":"G","k":6,"x":1196,"y":683},{"p":"G","k":6,"x":1238,"y":675},{"p":"G","k":6,"x":1267,"y":642},
{"p":"G","k":7,"x":1272,"y":601},{"p":"G","k":7,"x":1256,"y":567},{"p":"G","k":7,"x":1230,"y":541},{"p":"G","k":7,"x":1196,"y":525},{"p":"G","k":7,"x":1154,"y":529},{"p":"G","k":7,"x":1124,"y":560},{"p":"G","k":7,"x":1120,"y":601},{"p":"G","k":7,"x":1136,"y":636},{"p":"G","k":7,"x":1161,"y":661},{"p":"G","k":7,"x":1196,"y":677},{"p":"G","k":7,"x":1237,"y":673},{"p":"G","k":7,"x":1268,"y":643},
{"p":"G","k":8,"x":1272,"y":601},{"p":"G","k":8,"x":1256,"y":566},{"p":"G","k":8,"x":1229,"y":543},{"p":"G","k":8,"x":1196,"y":531},{"p":"G","k":8,"x":1157,"y":535},{"p":"G","k":8,"x":1127,"y":562},{"p":"G","k":8,"x":1120,"y":601},{"p":"G","k":8,"x":1135,"y":636},{"p":"G","k":8,"x":1162,"y":659},{"p":"G","k":8,"x":1196,"y":672},{"p":"G","k":8,"x":1234,"y":668},{"p":"G","k":8,"x":1265,"y":641}
],
"arcs":[
{"p":"B","x":797,"y":133},{"p":"B","x":812.5,"y":137.2},{"p":"B","x":823.8,"y":148.5},{"p":"B","x":828,"y":164},{"p":"B","x":823.8,"y":179.5},{"p":"B","x":812.5,"y":190.8},{"p":"B","x":795.9,"y":195},
{"p":"C","x":1208,"y":134},{"p":"C","x":1223.5,"y":138.2},{"p":"C","x":1234.8,"y":149.5},{"p":"C","x":1239,"y":165},{"p":"C","x":1234.8,"y":180.5},{"p":"C","x":1223.5,"y":191.8},{"p":"C","x":1206.9,"y":196},
{"p":"D","x":818,"y":363.5},{"p":"D","x":833.5,"y":367.7},{"p":"D","x":844.8,"y":379},{"p":"D","x":849,"y":394.5},{"p":"D","x":844.8,"y":410},{"p":"D","x":833.5,"y":421.3},{"p":"D","x":816.9,"y":425.5},
{"p":"E","x":1229,"y":363},{"p":"E","x":1244.5,"y":367.2},{"p":"E","x":1255.8,"y":378.5},{"p":"E","x":1260,"y":394},{"p":"E","x":1255.8,"y":409.5},{"p":"E","x":1244.5,"y":420.8},{"p":"E","x":1227.9,"y":425},
{"p":"F","x":789,"y":578},{"p":"F","x":804.5,"y":582.2},{"p":"F","x":815.8,"y":593.5},{"p":"F","x":820,"y":609},{"p":"F","x":815.8,"y":624.5},{"p":"F","x":804.5,"y":635.8},{"p":"F","x":787.9,"y":640},
{"p":"G","x":1200,"y":577.5},{"p":"G","x":1216,"y":581.8},{"p":"G","x":1227.7,"y":593.5},{"p":"G","x":1232,"y":609.5},{"p":"G","x":1227.7,"y":625.5},{"p":"G","x":1216,"y":637.2},{"p":"G","x":1198.9,"y":641.5}
],
"barbs":[{"x":796,"y":133},{"x":1207,"y":134},{"x":817,"y":363.5},{"x":1228,"y":363},{"x":788,"y":578},{"x":1199,"y":577.5}],
"turns":[
{"p":"F","x":739.1,"y":592.8},{"p":"F","x":745.5,"y":573.75},{"p":"F","x":763.95,"y":555.3},{"p":"F","x":789.2,"y":548.5},{"p":"F","x":814.45,"y":555.3},{"p":"F","x":832.9,"y":573.75},{"p":"F","x":838.9,"y":590.2},
{"p":"G","x":1145.6,"y":593.3},{"p":"G","x":1152,"y":574},{"p":"G","x":1170.7,"y":555.3},{"p":"G","x":1196.2,"y":548.5},{"p":"G","x":1221.7,"y":555.3},{"p":"G","x":1240.4,"y":574},{"p":"G","x":1246.4,"y":590.6}
],
"tips":[{"x":840.5,"y":598},{"x":1247.5,"y":598}]
},
"layer":[
{"data":{"name":"grid"},
 "mark":{"type":"rule","color":"black","strokeWidth":2,"strokeCap":"square"},
 "encoding":{
  "x":{"field":"x","type":"quantitative","scale":{"domain":[0,1290],"nice":false,"zero":false},"axis":null},
  "x2":{"field":"x2"},
  "y":{"field":"y","type":"quantitative","scale":{"domain":[0,916],"nice":false,"zero":false,"reverse":true},"axis":null},
  "y2":{"field":"y2"}}},
{"data":{"name":"colhead"},
 "mark":{"type":"text","font":"Liberation Serif","fontWeight":"bold","fontSize":28,"align":"center","baseline":"alphabetic","color":"black"},
 "encoding":{
  "x":{"field":"x","type":"quantitative","scale":{"domain":[0,1290],"nice":false,"zero":false},"axis":null},
  "y":{"field":"y","type":"quantitative","scale":{"domain":[0,916],"nice":false,"zero":false,"reverse":true},"axis":null},
  "text":{"field":"t"}}},
{"data":{"name":"rowlab"},
 "mark":{"type":"text","font":"Liberation Serif","fontSize":28,"align":"center","baseline":"middle","angle":270,"color":"black"},
 "encoding":{
  "x":{"field":"x","type":"quantitative","scale":{"domain":[0,1290],"nice":false,"zero":false},"axis":null},
  "y":{"field":"y","type":"quantitative","scale":{"domain":[0,916],"nice":false,"zero":false,"reverse":true},"axis":null},
  "text":{"field":"t"}}},
{"data":{"name":"freqs"},
 "mark":{"type":"text","font":"Liberation Serif","fontSize":18,"align":"center","baseline":"alphabetic","color":"black"},
 "encoding":{
  "x":{"field":"x","type":"quantitative","scale":{"domain":[0,1290],"nice":false,"zero":false},"axis":null},
  "y":{"field":"y","type":"quantitative","scale":{"domain":[0,916],"nice":false,"zero":false,"reverse":true},"axis":null},
  "text":{"field":"t"}}},
{"data":{"name":"refL"},
 "mark":{"type":"point","shape":"circle","filled":false,"stroke":"black","strokeWidth":1.1,"opacity":1},
 "encoding":{
  "x":{"field":"x","type":"quantitative","scale":{"domain":[0,1290],"nice":false,"zero":false},"axis":null},
  "y":{"field":"y","type":"quantitative","scale":{"domain":[0,916],"nice":false,"zero":false,"reverse":true},"axis":null},
  "size":{"field":"r","type":"quantitative","scale":{"type":"pow","exponent":2,"domain":[0,100],"range":[0,40000]},"legend":null}}},
{"data":{"name":"reds"},
 "mark":{"type":"line","color":"#ff0000","strokeWidth":1.5,"interpolate":"cardinal-closed"},
 "encoding":{
  "x":{"field":"x","type":"quantitative","scale":{"domain":[0,1290],"nice":false,"zero":false},"axis":null},
  "y":{"field":"y","type":"quantitative","scale":{"domain":[0,916],"nice":false,"zero":false,"reverse":true},"axis":null},
  "detail":{"field":"p"},
  "order":{"value":null}}},
{"data":{"name":"frames"},
 "mark":{"type":"line","strokeWidth":1.3,"interpolate":"cardinal-closed"},
 "encoding":{
  "x":{"field":"x","type":"quantitative","scale":{"domain":[0,1290],"nice":false,"zero":false},"axis":null},
  "y":{"field":"y","type":"quantitative","scale":{"domain":[0,916],"nice":false,"zero":false,"reverse":true},"axis":null},
  "color":{"field":"k","type":"nominal","scale":{"domain":[1,2,3,4,5,6,7,8,9],"range":["#1a0a8c","#0a32ff","#00a8ff","#1ef0e6","#96ff64","#ffc800","#ff7800","#ff1400","#780000"]},"legend":null},
  "detail":{"field":"p"},
  "order":{"value":null}}},
{"data":{"name":"refR"},
 "mark":{"type":"point","shape":"circle","filled":false,"stroke":"black","strokeWidth":2.3,"opacity":1},
 "encoding":{
  "x":{"field":"x","type":"quantitative","scale":{"domain":[0,1290],"nice":false,"zero":false},"axis":null},
  "y":{"field":"y","type":"quantitative","scale":{"domain":[0,916],"nice":false,"zero":false,"reverse":true},"axis":null},
  "size":{"field":"r","type":"quantitative","scale":{"type":"pow","exponent":2,"domain":[0,100],"range":[0,40000]},"legend":null}}},
{"data":{"name":"arcs"},
 "mark":{"type":"line","color":"black","strokeWidth":8.5,"interpolate":"cardinal","strokeCap":"butt"},
 "encoding":{
  "x":{"field":"x","type":"quantitative","scale":{"domain":[0,1290],"nice":false,"zero":false},"axis":null},
  "y":{"field":"y","type":"quantitative","scale":{"domain":[0,916],"nice":false,"zero":false,"reverse":true},"axis":null},
  "detail":{"field":"p"},
  "order":{"value":null}}},
{"data":{"name":"arcs"},
 "mark":{"type":"line","color":"#e00000","strokeWidth":5,"interpolate":"cardinal","strokeCap":"butt"},
 "encoding":{
  "x":{"field":"x","type":"quantitative","scale":{"domain":[0,1290],"nice":false,"zero":false},"axis":null},
  "y":{"field":"y","type":"quantitative","scale":{"domain":[0,916],"nice":false,"zero":false,"reverse":true},"axis":null},
  "detail":{"field":"p"},
  "order":{"value":null}}},
{"data":{"name":"barbs"},
 "mark":{"type":"point","shape":"M -1 0 L 0.1 -1 L 0.1 1 Z","size":400,"filled":true,"fill":"#e00000","stroke":"black","strokeWidth":1.6,"opacity":1},
 "encoding":{
  "x":{"field":"x","type":"quantitative","scale":{"domain":[0,1290],"nice":false,"zero":false},"axis":null},
  "y":{"field":"y","type":"quantitative","scale":{"domain":[0,916],"nice":false,"zero":false,"reverse":true},"axis":null}}},
{"data":{"name":"turns"},
 "mark":{"type":"line","color":"black","strokeWidth":2.5,"interpolate":"cardinal"},
 "encoding":{
  "x":{"field":"x","type":"quantitative","scale":{"domain":[0,1290],"nice":false,"zero":false},"axis":null},
  "y":{"field":"y","type":"quantitative","scale":{"domain":[0,916],"nice":false,"zero":false,"reverse":true},"axis":null},
  "detail":{"field":"p"},
  "order":{"value":null}}},
{"data":{"name":"tips"},
 "mark":{"type":"point","shape":"M -1 -0.4 L 1 -0.4 L 0 0.4 Z","size":625,"filled":true,"fill":"white","stroke":"black","strokeWidth":1.6,"opacity":1},
 "encoding":{
  "x":{"field":"x","type":"quantitative","scale":{"domain":[0,1290],"nice":false,"zero":false},"axis":null},
  "y":{"field":"y","type":"quantitative","scale":{"domain":[0,916],"nice":false,"zero":false,"reverse":true},"axis":null}}}
]
}
